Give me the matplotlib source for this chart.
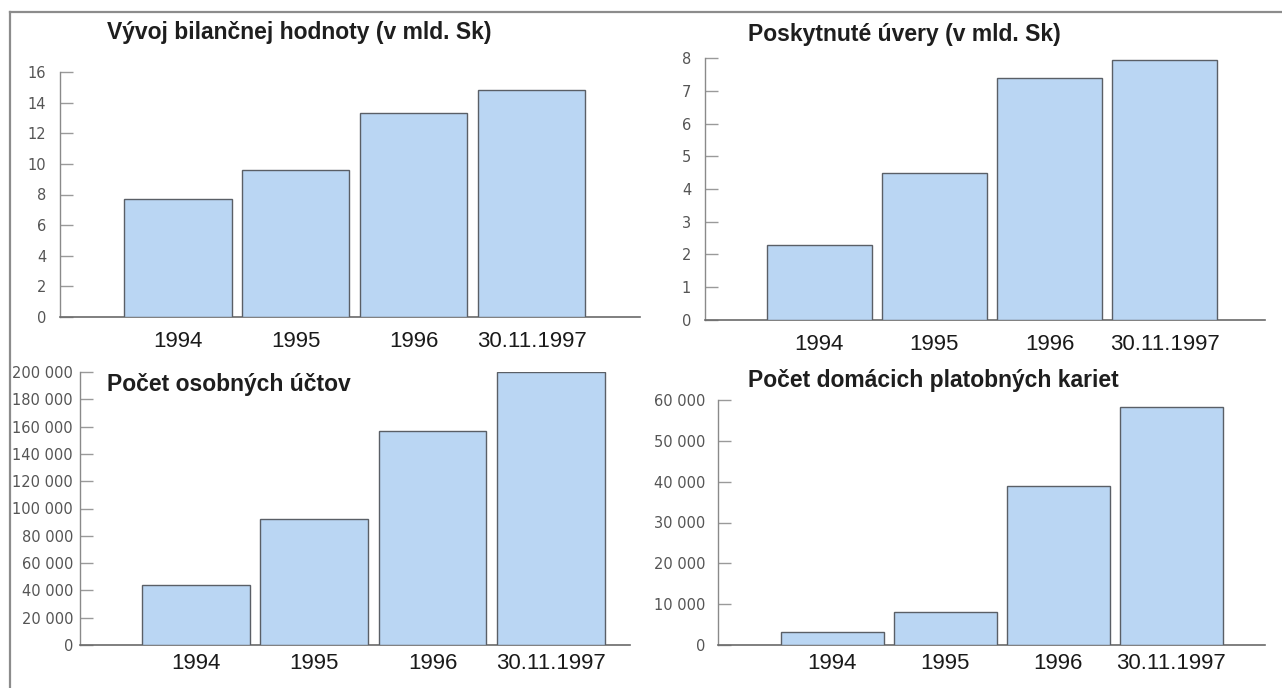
import matplotlib

matplotlib.use("Agg")
import matplotlib.pyplot as plt  # noqa: E402
from matplotlib.lines import Line2D  # noqa: E402
from matplotlib.ticker import FuncFormatter  # noqa: E402

# data
categories = ["1994", "1995", "1996", "30.11.1997"]
bilancna_hodnota = [7.7, 9.6, 13.3, 14.8]
uvery = [2.3, 4.5, 7.4, 7.95]
osobne_ucty = [44000, 92000, 157000, 200000]
platobne_karty = [3100, 8100, 39000, 58300]

titles = [
    "Vývoj bilančnej hodnoty (v mld. Sk)",
    "Poskytnuté úvery (v mld. Sk)",
    "Počet osobných účtov",
    "Počet domácich platobných kariet",
]
yticks_1 = list(range(0, 17, 2))
yticks_2 = list(range(0, 9))
yticks_3 = list(range(0, 200001, 20000))
yticks_4 = list(range(0, 60001, 10000))

W, H = 1282, 688
BAR = "#bad6f3"
EDGE = "#5a5f66"
TICK_FONT = ["Liberation Sans Narrow", "DejaVu Sans"]
LABEL_FONT = ["Liberation Sans", "DejaVu Sans"]

fig = plt.figure(figsize=(W / 100, H / 100), dpi=100)
fig.patch.set_facecolor("white")


def px_axes(left, right, top, bottom):
    """axes from pixel box (top-left origin)"""
    return fig.add_axes([left / W, 1 - bottom / H, (right - left) / W, (bottom - top) / H])


def thousands(v, _pos):
    return f"{int(v):,}".replace(",", " ")


def panel(box, values, yticks, xlim, fmt=None, title=None, title_xy=None, ypad=10, xpad=8):
    ax = px_axes(*box)
    x = list(range(len(values)))
    ax.bar(x, values, width=0.91, color=BAR, edgecolor=EDGE, linewidth=1.0, zorder=3)
    ax.set_xlim(*xlim)
    ax.set_ylim(0, yticks[-1])
    ax.set_yticks(yticks)
    if fmt:
        ax.yaxis.set_major_formatter(FuncFormatter(fmt))
    ax.set_xticks(x)
    ax.set_xticklabels(categories, fontfamily=LABEL_FONT, fontsize=16, color="#1a1a1a")
    ax.tick_params(axis="x", length=0, pad=xpad)
    ax.tick_params(axis="y", direction="in", length=9, width=1.0, color="#9a9a9a",
                   labelcolor="#555555", labelsize=10.5, pad=ypad)
    for lab in ax.get_yticklabels():
        lab.set_fontfamily(TICK_FONT)
    for s in ("top", "right"):
        ax.spines[s].set_visible(False)
    ax.spines["left"].set_color("#8a8a8a")
    ax.spines["left"].set_linewidth(1.0)
    ax.spines["bottom"].set_color("#6a6a6a")
    ax.spines["bottom"].set_linewidth(1.2)
    ax.set_facecolor("none")
    if title:
        fig.text(title_xy[0] / W, 1 - title_xy[1] / H, title, fontfamily=LABEL_FONT,
                 fontsize=16.5, fontweight="bold", color="#1e1e1e", va="center", ha="left")
    return ax


panel((60, 640, 72, 317), bilancna_hodnota, yticks_1, (-1.0, 3.92),
      title=titles[0], title_xy=(107, 32), xpad=10)
panel((705, 1265, 58, 320), uvery, yticks_2, (-0.99, 3.87),
      title=titles[1], title_xy=(748, 34), xpad=10)
panel((80, 630, 372, 645), osobne_ucty, yticks_3, (-0.98, 3.67), fmt=thousands,
      title=titles[2], title_xy=(107, 384), ypad=5, xpad=6)
panel((718, 1265, 400, 645), platobne_karty, yticks_4, (-1.01, 3.83), fmt=thousands,
      title=titles[3], title_xy=(748, 381), ypad=9, xpad=6)

# page frame, top and left edges only
fig.add_artist(Line2D([10 / W, 1.0], [1 - 12 / H, 1 - 12 / H], color="#8c8c8c",
                      linewidth=1.6, transform=fig.transFigure))
fig.add_artist(Line2D([10 / W, 10 / W], [1 - 12 / H, 0.0], color="#8c8c8c",
                      linewidth=1.6, transform=fig.transFigure))

fig.savefig("out.png", dpi=100)
plt.close(fig)
